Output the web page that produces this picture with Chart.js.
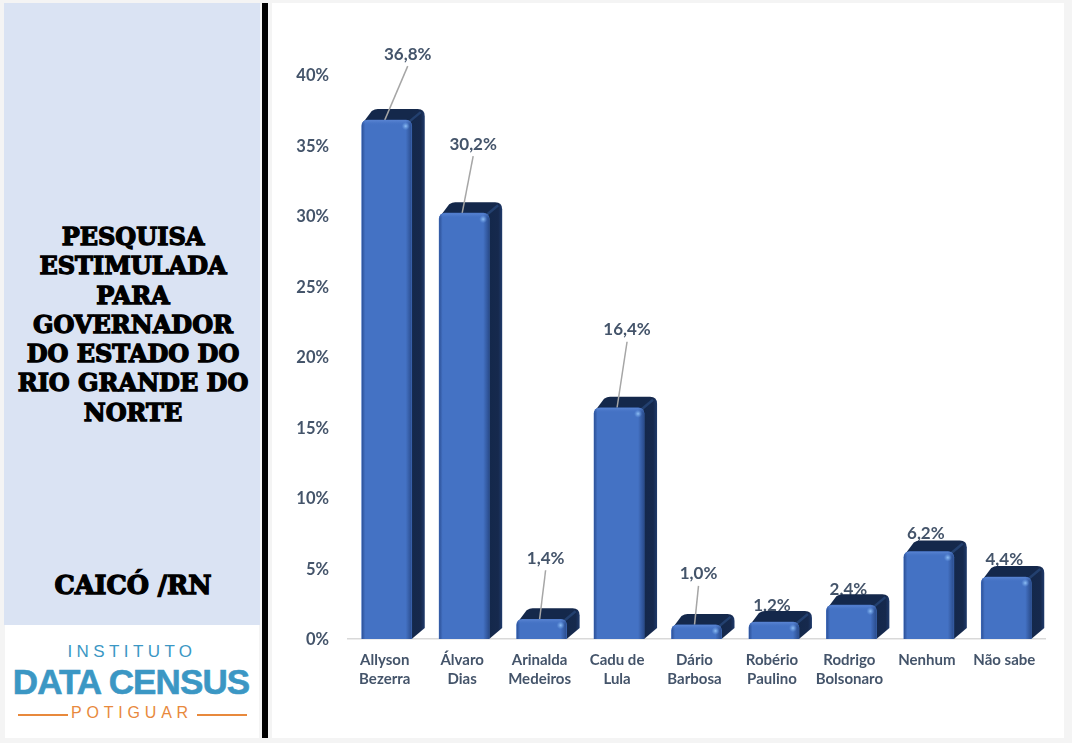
<!DOCTYPE html>
<html lang="pt">
<head>
<meta charset="utf-8">
<title>Pesquisa estimulada para governador</title>
<script src="https://cdn.jsdelivr.net/npm/chart.js@4"></script>
<style>
  html, body { margin: 0; padding: 0; background: #f4f4f4; }
  #page { position: relative; width: 1072px; height: 743px; overflow: hidden; }
  #side { position: absolute; left: 4px; top: 3px; width: 256px; height: 622px; background: #dae3f3; }
  #rule { position: absolute; left: 262px; top: 3px; width: 6px; height: 735px; background: #000; }
  #panel { position: absolute; left: 272px; top: 3px; width: 792px; height: 735px; background: #fff; }
  #chart { position: absolute; left: 0; top: 0; }
  .heading {
    position: absolute; left: 0; width: 266px; text-align: center; color: #000;
    font: bold 24px/29.3px "DejaVu Serif", serif; -webkit-text-stroke: 1.3px #000;
  }
  #logo { position: absolute; left: 5px; top: 625px; width: 254px; height: 113px; background: #fff; text-align: center; font-family: "Liberation Sans", sans-serif; }
  #logo div { position: absolute; left: 0; width: 100%; }
  #l1 { top: 17px; font-size: 17px; letter-spacing: 4.4px; color: #3b97c4; }
  #l2 { top: 37px; left: -1px !important; font-size: 35px; font-weight: bold; letter-spacing: -0.9px; color: #3b97c4; -webkit-text-stroke: 0.6px #3b97c4; }
  #l3 { top: 79px; font-size: 16px; letter-spacing: 4.8px; color: #e8893c; }
  #logo i { position: absolute; top: 89px; height: 1.5px; width: 50px; background: #e8893c; }
</style>
</head>
<body>
<div id="page">
  <div id="side"></div>
  <div id="rule"></div>
  <div id="panel"></div>
  <div class="heading" style="top:222px">PESQUISA<br>ESTIMULADA<br>PARA<br>GOVERNADOR<br>DO ESTADO DO<br>RIO GRANDE DO<br>NORTE</div>
  <div class="heading" style="top:571px;font-size:25.5px">CAICÓ /RN</div>
  <div id="logo">
    <div id="l1">INSTITUTO</div>
    <div id="l2">DATA CENSUS</div>
    <div id="l3">POTIGUAR</div>
    <i style="left:13px"></i><i style="right:12px"></i>
  </div>
  <canvas id="chart" width="1072" height="743"></canvas>
</div>
<script>
const candidatos = [['Allyson', 'Bezerra'], ['Álvaro', 'Dias'], ['Arinalda', 'Medeiros'], ['Cadu de', 'Lula'], ['Dário', 'Barbosa'], ['Robério', 'Paulino'], ['Rodrigo', 'Bolsonaro'], 'Nenhum', 'Não sabe'];
const percentuais = [36.8, 30.2, 1.4, 16.4, 1.0, 1.2, 2.4, 6.2, 4.4];
const eixoY = [0, 5, 10, 15, 20, 25, 30, 35, 40];

// deslocamento do rotulo em relacao ao topo da barra, e se tem linha guia
const rotulos = [
    { dx: 21, dy: -66, guia: true }, { dx: 9, dy: -69, guia: true }, { dx: 4, dy: -61, guia: true },
    { dx: 8, dy: -78, guia: true }, { dx: 2, dy: -51, guia: true }, { dx: -2, dy: -17, guia: false },
    { dx: -3, dy: -16, guia: false }, { dx: -3, dy: -18, guia: false }, { dx: -2, dy: -17, guia: false }
];

const corTexto = '#44546a';
const meia = 25; // metade da largura da barra
const profundidade = { x: 13, y: -11 };

function caminhoFrente(ctx, b, r) {
    ctx.beginPath();
    ctx.moveTo(b.x - meia, b.base);
    ctx.lineTo(b.x - meia, b.y + r);
    ctx.quadraticCurveTo(b.x - meia, b.y, b.x - meia + r, b.y);
    ctx.lineTo(b.x + meia - r, b.y);
    ctx.quadraticCurveTo(b.x + meia, b.y, b.x + meia, b.y + r);
    ctx.lineTo(b.x + meia, b.base);
    ctx.closePath();
}

function desenhaLateral(ctx, b) {
    const d = profundidade;
    const e = b.x - meia, f = b.x + meia, t = b.y, r = 7;
    const lado = ctx.createLinearGradient(f, 0, f + d.x, 0);
    lado.addColorStop(0, '#14284b');
    lado.addColorStop(0.7, '#16294d');
    lado.addColorStop(1, '#1f3a6b');
    ctx.fillStyle = lado;
    ctx.beginPath();
    ctx.moveTo(e + 1, t + 3);
    ctx.lineTo(e + d.x - 3, t + d.y + 2);
    ctx.quadraticCurveTo(e + d.x, t + d.y, e + d.x + 3, t + d.y);
    ctx.lineTo(f + d.x - r, t + d.y);
    ctx.quadraticCurveTo(f + d.x, t + d.y, f + d.x, t + d.y + r);
    ctx.lineTo(f + d.x, b.base + d.y);
    ctx.lineTo(f, b.base);
    ctx.closePath();
    ctx.fill();
    // quina clara entre a tampa e a lateral
    ctx.strokeStyle = '#23406f';
    ctx.lineWidth = 2.5;
    ctx.beginPath();
    ctx.moveTo(f - 3, t + 2);
    ctx.lineTo(f + d.x - 4, t + d.y + 3);
    ctx.stroke();
}

function desenhaChanfro(ctx, b) {
    const e = b.x - meia, f = b.x + meia, t = b.y;
    ctx.save();
    caminhoFrente(ctx, b, 6);
    ctx.clip();
    const g = ctx.createLinearGradient(e, 0, f, 0);
    g.addColorStop(0, '#2c5096');
    g.addColorStop(0.07, '#4472c4');
    g.addColorStop(0.88, '#4472c4');
    g.addColorStop(1, '#2a4c8c');
    ctx.fillStyle = g;
    ctx.fillRect(e, t, meia * 2, b.base - t);
    const topo = ctx.createLinearGradient(0, t, 0, t + 5);
    topo.addColorStop(0, 'rgba(110,150,225,0.55)');
    topo.addColorStop(1, 'rgba(68,114,196,0)');
    ctx.fillStyle = topo;
    ctx.fillRect(e, t, meia * 2, 5);
    const brilho = ctx.createRadialGradient(f - 6, t + 6, 0, f - 6, t + 6, 4);
    brilho.addColorStop(0, '#8fc0f5');
    brilho.addColorStop(1, 'rgba(110,160,230,0)');
    ctx.fillStyle = brilho;
    ctx.fillRect(f - 11, t + 1, 10, 10);
    ctx.restore();
}

// ordem: rotulo, lateral, guia, frente (o texto fica atras da tampa, como no original)
const barra3d = {
    id: 'barra3d',
    beforeDatasetDraw(chart) {
        const ctx = chart.ctx;
        chart.getDatasetMeta(0).data.forEach((b, i) => {
            const r = rotulos[i];
            const lx = b.x + r.dx, ly = b.y + r.dy;
            ctx.save();
            ctx.font = 'bold 17px Lato';
            ctx.fillStyle = corTexto;
            ctx.textAlign = 'center';
            ctx.textBaseline = 'middle';
            ctx.fillText(percentuais[i].toFixed(1).replace('.', ',') + '%', lx, ly);
            desenhaLateral(ctx, b);
            if (r.guia) {
                ctx.strokeStyle = '#a6a6a6';
                ctx.lineWidth = 1.5;
                ctx.beginPath();
                ctx.moveTo(lx, ly + 12);
                ctx.lineTo(b.x - 2, b.y);
                ctx.stroke();
            }
            ctx.restore();
        });
    },
    afterDatasetDraw(chart) {
        chart.getDatasetMeta(0).data.forEach(b => desenhaChanfro(chart.ctx, b));
    }
};

new Chart(document.getElementById('chart'), {
    type: 'bar',
    data: {
        labels: candidatos,
        datasets: [{
            data: percentuais,
            backgroundColor: '#4472c4',
            barThickness: meia * 2,
            borderRadius: { topLeft: 6, topRight: 6, bottomLeft: 0, bottomRight: 0 },
            borderSkipped: false
        }]
    },
    plugins: [barra3d],
    options: {
        responsive: false,
        animation: false,
        layout: { padding: { top: 75, right: 27, left: 0, bottom: 0 } },
        plugins: { legend: { display: false }, tooltip: { enabled: false } },
        scales: {
            x: {
                afterFit(scale) { scale.height = 104; },
                grid: { display: false, drawTicks: false },
                border: { color: '#d9d9d9', width: 1.5 },
                ticks: {
                    color: corTexto, padding: 12, maxRotation: 0, autoSkip: false, labelOffset: -2,
                    font: { family: 'Lato', size: 15, weight: 'bold', lineHeight: 1.27 }
                }
            },
            y: {
                min: 0,
                max: 40,
                afterFit(scale) { scale.width = 348; },
                afterBuildTicks(scale) { scale.ticks = eixoY.map(v => ({ value: v })); },
                grid: { display: false, drawTicks: false },
                border: { display: false },
                ticks: {
                    color: corTexto, padding: 19, labelOffset: 1,
                    font: { family: 'Lato', size: 16.5, weight: 'bold' },
                    callback: v => v + '%'
                }
            }
        }
    }
});
</script>
</body>
</html>
